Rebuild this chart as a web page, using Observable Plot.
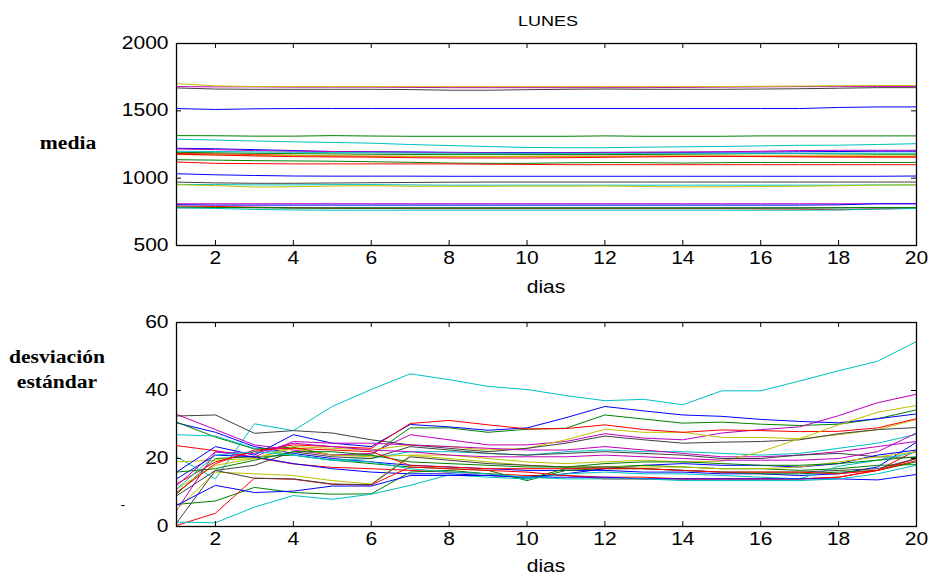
<!DOCTYPE html>
<html><head><meta charset="utf-8">
<script src="https://cdn.jsdelivr.net/npm/d3@7"></script>
<script src="https://cdn.jsdelivr.net/npm/@observablehq/plot@0.6"></script>
<style>
body{margin:0;background:#fff;}
#wrap{position:relative;width:931px;height:577px;overflow:hidden;font-family:"Liberation Sans",Arial,sans-serif;color:#000;}
.abs{position:absolute;white-space:nowrap;}
.c{transform:translate(-50%,-50%) scaleX(1.2);}
.ser{font-family:"Liberation Serif","Times New Roman",serif;font-weight:bold;font-size:18px;text-align:center;line-height:25px;}
</style></head><body>
<div id="wrap">
  <div id="p1" class="abs" style="left:0;top:0"></div>
  <div id="p2" class="abs" style="left:0;top:290px"></div>
  <div class="abs c" style="left:548px;top:20px;font-size:15px;">LUNES</div>
  <div class="abs c" style="left:546px;top:287px;font-size:17.5px;">dias</div>
  <div class="abs c" style="left:546px;top:566px;font-size:17.5px;">dias</div>
  <div class="abs c ser" style="left:68px;top:143px;">media</div>
  <div class="abs c ser" style="left:57px;top:370px;">desviación<br>estándar</div>
  <div class="abs c" style="left:123px;top:505px;font-size:12px;">-</div>
</div>
<script>
const days = [1,2,3,4,5,6,7,8,9,10,11,12,13,14,15,16,17,18,19,20];
const xTicks = [2,4,6,8,10,12,14,16,18,20];
const mediaTicks = [500,1000,1500,2000];
const sdTicks = [0,20,40,60];
const seriesNames = ["s01","s02","s03","s04","s05","s06","s07","s08","s09","s10","s11","s12","s13","s14","s15","s16","s17","s18","s19","s20","s21","s22","s23","s24","s25"];

const media = [
  [1517,1510,1515,1517,1517,1517,1517,1517,1517,1517,1517,1517,1517,1517,1517,1517,1517,1525,1529,1529],
  [1316,1315,1312,1312,1316,1313,1311,1311,1311,1311,1311,1314,1311,1311,1311,1314,1314,1314,1314,1314],
  [1183,1180,1175,1170,1165,1163,1162,1160,1160,1162,1163,1163,1163,1163,1163,1163,1163,1163,1160,1160],
  [1289,1283,1276,1270,1265,1260,1250,1242,1235,1228,1226,1226,1230,1233,1235,1240,1244,1245,1250,1256],
  [1680,1678,1678,1676,1676,1676,1674,1672,1672,1672,1672,1672,1672,1674,1676,1678,1680,1680,1680,1680],
  [1702,1685,1680,1680,1680,1680,1680,1680,1680,1680,1680,1680,1680,1680,1680,1682,1684,1686,1688,1688],
  [1670,1662,1660,1660,1660,1660,1658,1653,1653,1657,1660,1662,1660,1660,1660,1662,1664,1668,1672,1672],
  [1222,1218,1212,1205,1198,1196,1195,1192,1190,1190,1190,1192,1192,1192,1194,1194,1196,1198,1200,1200],
  [1137,1134,1130,1128,1126,1122,1118,1112,1110,1110,1114,1116,1115,1112,1115,1117,1117,1117,1117,1117],
  [1120,1110,1108,1106,1106,1106,1106,1106,1104,1102,1100,1100,1100,1100,1100,1100,1100,1100,1100,1100],
  [954,952,950,950,952,952,950,948,948,948,948,948,948,948,948,948,948,948,950,950],
  [1217,1212,1205,1200,1198,1195,1192,1190,1188,1186,1188,1190,1192,1194,1196,1200,1205,1207,1207,1207],
  [951,945,934,936,942,944,940,940,940,941,941,942,938,935,936,938,940,944,948,950],
  [971,965,962,962,964,966,968,970,971,971,971,971,971,971,971,971,971,971,971,971],
  [1033,1025,1020,1016,1015,1015,1015,1014,1014,1014,1014,1014,1014,1014,1014,1014,1014,1014,1014,1016],
  [1192,1188,1185,1182,1180,1178,1176,1175,1175,1175,1175,1175,1176,1178,1180,1182,1182,1180,1178,1178],
  [793,790,785,780,776,775,774,774,774,774,774,774,774,774,774,772,770,765,772,776],
  [1200,1198,1195,1192,1190,1188,1186,1185,1184,1184,1184,1184,1184,1184,1184,1184,1184,1186,1186,1186],
  [810,810,810,810,810,810,810,810,810,810,810,810,810,810,810,810,810,810,810,810],
  [1175,1172,1170,1168,1165,1163,1162,1162,1160,1160,1160,1160,1162,1165,1165,1165,1165,1165,1165,1165],
  [780,782,782,780,780,780,780,780,780,780,780,780,780,780,780,780,780,780,780,780],
  [803,800,800,800,800,800,800,800,800,800,800,800,800,800,800,800,800,802,810,810],
  [785,782,780,778,778,778,778,778,778,778,778,778,778,778,778,778,778,780,782,782],
  [1178,1172,1165,1160,1158,1156,1152,1150,1150,1150,1152,1155,1158,1160,1162,1160,1158,1156,1156,1156],
  [780,775,768,764,762,762,762,762,762,762,762,762,762,762,762,762,762,764,770,775]
];

const desviacion = [
  [30.5,27.7,23.5,21.5,20,19,18,17.5,17,16.5,16.5,16.5,16,16,15.5,15.5,15,15.5,17.5,24.8],
  [30.7,26.3,22.8,23.3,21,21,29,29,27.7,28.6,28.9,32.8,31.6,30.4,30.7,30.1,29.7,30.1,31.7,34.3],
  [23.8,22.3,20.3,18.4,17.4,17,16.5,16,15.5,15,15,14.5,14.5,14,14,14,14,14.5,16.5,22.4],
  [20.5,14,30.2,28.2,35.3,40.3,44.9,43.2,41.2,40.3,38.5,37,37.4,35.8,39.9,39.9,42.8,45.8,48.6,54.4],
  [33,28.5,24,22.5,21,21.5,27,25.5,24,24,25,27.3,26,25.5,27.5,28.5,29.3,32.6,36.4,38.9],
  [19,19.5,20,23.5,23,22.5,24,23.5,22.5,23,25.5,28.6,27.7,27.7,26.2,26.2,25.8,27,28.5,31.5],
  [32.5,32.8,27.4,28.2,27.5,25.5,24,23,22,23,24.5,26.6,25.5,24.5,24.8,25,25.5,27.3,28.5,29.1],
  [16,23.5,21,27,24.5,23.5,30,29.3,28.3,29,32,35.3,34,32.8,32.4,31.5,30.9,30.5,31.7,33.1],
  [9.5,20,20.5,21,19.5,18.5,17.5,17,16.5,13.5,16.5,17,17,16.5,16,15.5,15.5,16,16.5,19],
  [12.5,19,22,24,23.5,23,30.3,31.2,29.9,28.7,28.8,29.9,28.5,27.7,28.4,28.2,27.9,28,29,31.7],
  [27,26.6,23,21,19.5,20,22,22,21.5,21,22,22.5,22,22,21.5,21,21.5,23,24.5,27.1],
  [12,22,20.5,25,24.5,24.5,24,23.5,23,22.5,22.5,23.5,22.5,21.5,20.5,20.5,21,22,23.5,25],
  [11,18,20,23,21,20.5,21,21,20,19,18.5,19,19.5,19,19.2,22,25.8,29.9,33.6,35.6],
  [9,16.5,18,22,20.5,20,23.5,22.5,21.5,21,21.5,22,21.5,21,20,20,21,21.5,20.5,20.3],
  [14,21,20.5,18.5,17,16,15.5,15.5,15,14.5,15.5,17,18,18.5,18,18,17.5,18.5,21,22.5],
  [6.5,7.5,11.5,10,9.5,9.6,16,16.5,15.5,14,17,17.5,18,17.5,17,17,16.5,17,18,18.2],
  [0.3,3.9,14.2,13.9,12.4,12.2,17.5,17,16.5,16,15,14,14,14,14,14,14,14.5,16.5,20],
  [1.3,1.1,5.7,9.1,8,9.5,12.1,15.2,14.5,14,15.5,16,15.5,15.5,15,14.5,14,17.7,19.5,21.9],
  [4.7,21.9,21.5,24.5,23.5,22.5,22,21,20.5,20.5,20.5,21,20.5,20,19.5,19.5,19.5,20,22,27.5],
  [5,16,15.5,15,13.5,12.5,20.9,20,19,18,17.5,17.5,17.5,17.5,17,17,17.5,19,20.5,22],
  [1,16.5,14.2,14,12.5,12.3,20.5,19.5,18.5,18,17.5,17.5,17,16.5,16,16,16,16.5,17,20],
  [6.2,12.1,10,10.4,11.9,11.9,15,15,15,14.5,14.5,14.5,14,14,14,14,14,14,13.7,15.3],
  [16,17,19.5,22,22,21,19,18.5,18,17.5,17.5,18.5,19,19,18.5,18,18,18.5,19.5,20.5],
  [10,18.5,22.5,23,22.5,22,18,17.5,17,17,17,17,17,16.5,16,16,16,15.5,16.5,19.4],
  [11,21,22,21,19.5,19,17,16,15.5,14.5,14,14,14,13.5,13.5,13.5,13.5,14,15.5,18]
];

const matlabCycle = ["#0000ff","#008000","#ff0000","#00bfbf","#bf00bf","#bfbf00","#404040"];

function toRows(values) {
  return seriesNames.flatMap((s, i) => days.map((d, j) => ({series: s, dia: d, value: values[i][j]})));
}

function panel(values, yDomain, yTicks, height, marginTop, marginBottom) {
  const innerH = height - marginTop - marginBottom;
  const innerW = 931 - 176 - 15;
  const tl = 5;
  const svg = Plot.plot({
    width: 931, height, marginLeft: 176, marginRight: 15, marginTop, marginBottom,
    style: {fontFamily: "'Liberation Sans', Arial, sans-serif", fontSize: "17.5px", color: "#000", background: "transparent", overflow: "visible"},
    x: {domain: [1, 20]},
    y: {domain: yDomain},
    color: {domain: seriesNames, range: seriesNames.map((_, i) => matlabCycle[i % matlabCycle.length])},
    marks: [
      Plot.line(toRows(values), {x: "dia", y: "value", z: "series", stroke: "series", strokeWidth: 1}),
      Plot.tickX(xTicks, {x: d => d, stroke: "#000", insetTop: innerH - tl}),
      Plot.tickX(xTicks, {x: d => d, stroke: "#000", insetBottom: innerH - tl}),
      Plot.tickY(yTicks, {y: d => d, stroke: "#000", insetRight: innerW - tl}),
      Plot.tickY(yTicks, {y: d => d, stroke: "#000", insetLeft: innerW - tl}),
      Plot.frame({stroke: "#000", strokeWidth: 1.3}),
      Plot.axisX(xTicks, {anchor: "bottom", tickSize: 0, tickPadding: 6, label: null}),
      Plot.axisY(yTicks, {anchor: "left", tickSize: 0, tickPadding: 8, tickFormat: d => String(d), label: null})
    ]
  });
  svg.querySelectorAll('g[aria-label$="tick label"] text').forEach(t => {
    t.setAttribute("transform", (t.getAttribute("transform") || "") + " scale(1.2,1)");
  });
  return svg;
}

document.getElementById("p1").append(panel(media, [500, 2000], mediaTicks, 300, 43, 55));
document.getElementById("p2").append(panel(desviacion, [0, 60], sdTicks, 287, 32, 51));
</script>
</body></html>
